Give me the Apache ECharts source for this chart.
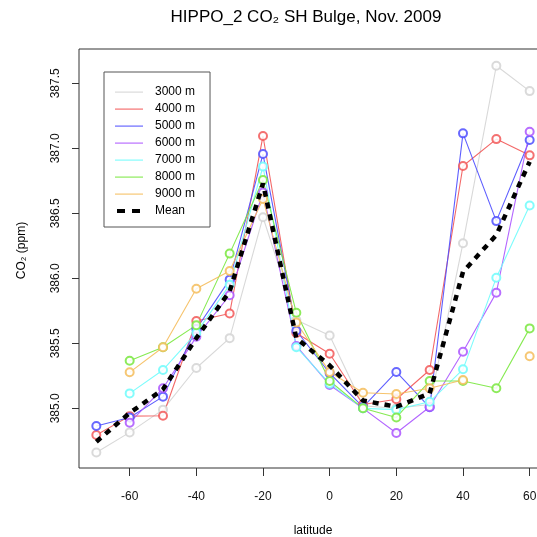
<!DOCTYPE html>
<html>
<head>
<meta charset="utf-8">
<script src="https://cdn.jsdelivr.net/npm/echarts@6/dist/echarts.min.js"></script>
<style>
  html, body { margin: 0; padding: 0; background: #fff; }
  #chart { width: 537px; height: 537px; }
</style>
</head>
<body>
<div id="chart"></div>
<script>
// Latitude bins (degrees) shared by every altitude profile
const latitudes = [-70, -60, -50, -40, -30, -20, -10, 0, 10, 20, 30, 40, 50, 60];

// CO2 mixing ratio (ppm) by altitude band; null = no samples in that bin
const co2_3000m = [384.66, 384.815, 384.99, 385.31, 385.54, 386.47, 385.68, 385.56, 385.02, 385.0, 385.03, 386.27, 387.635, 387.44];
const co2_4000m = [384.795, 384.94, 384.943, 385.672, 385.73, 387.095, 385.58, 385.42, 385.03, 385.07, 385.295, 386.864, 387.071, 386.946];
const co2_5000m = [384.864, 384.93, 385.09, 385.61, 385.99, 386.956, 385.597, 385.27, 385.01, 385.28, 385.008, 387.115, 386.44, 387.064];
const co2_6000m = [null, 384.89, 385.154, 385.55, 385.87, 386.66, 385.48, 385.18, 385.0, 384.81, 385.01, 385.435, 385.89, 387.128];
const co2_7000m = [null, 385.115, 385.295, 385.58, 385.95, 386.86, 385.47, 385.19, 385.0, 384.99, 385.05, 385.30, 386.005, 386.56];
const co2_8000m = [null, 385.366, 385.47, 385.64, 386.19, 386.756, 385.735, 385.21, 385.0, 384.93, 385.21, 385.21, 385.154, 385.615];
const co2_9000m = [null, 385.277, 385.47, 385.92, 386.056, 386.61, 385.66, 385.28, 385.12, 385.11, 385.154, 385.218, null, 385.40];
const co2_mean  = [384.743, 384.964, 385.146, 385.54, 385.9, 386.73, 385.54, 385.33, 385.06, 385.012, 385.115, 386.05, 386.333, 386.897];

// Axis tick positions
const latTicks = [-60, -40, -20, 0, 20, 40, 60];
const co2Ticks = [385.0, 385.5, 386.0, 386.5, 387.0, 387.5];

const profiles = [
  { name: '3000 m', values: co2_3000m, color: '#d4d4d4' },
  { name: '4000 m', values: co2_4000m, color: '#f25858' },
  { name: '5000 m', values: co2_5000m, color: '#4d4dff' },
  { name: '6000 m', values: co2_6000m, color: '#ab55ff' },
  { name: '7000 m', values: co2_7000m, color: '#6ffcfc' },
  { name: '8000 m', values: co2_8000m, color: '#79e83e' },
  { name: '9000 m', values: co2_9000m, color: '#f5bd5c' }
];

const FONT = '"Liberation Sans", Arial, Helvetica, sans-serif';
const toPairs = vals => latitudes.map((lat, i) => [lat, vals[i]]);

const thinIcon = 'path://M0,0M28,8M0,3.5h28v1.2h-28z';
const dashIcon = 'path://M0,0M28,8M2,2h8v4h-8zM17,2h8v4h-8z';

const series = profiles.map(p => ({
  name: p.name,
  type: 'line',
  data: toPairs(p.values),
  symbol: 'emptyCircle',
  symbolSize: 8,
  connectNulls: false,
  lineStyle: { color: p.color, width: 1.1, opacity: 0.9 },
  itemStyle: { color: p.color, borderColor: p.color, borderWidth: 0.9, opacity: 0.85 },
  emphasis: { disabled: true },
  animation: false
}));

series.push({
  name: 'Mean',
  type: 'line',
  data: toPairs(co2_mean),
  symbol: 'none',
  lineStyle: { color: '#000', width: 4.5, type: [6, 6] },
  itemStyle: { color: '#000' },
  emphasis: { disabled: true },
  animation: false,
  z: 5
});

const legendData = profiles.map(p => ({ name: p.name, icon: thinIcon, itemStyle: { color: p.color, borderWidth: 0 } }))
  .concat([{ name: 'Mean', icon: dashIcon, itemStyle: { color: '#000', borderWidth: 0 } }]);

const chart = echarts.init(document.getElementById('chart'), null, { renderer: 'canvas' });
chart.setOption({
  backgroundColor: '#fff',
  animation: false,
  title: {
    text: 'HIPPO_2 CO\u2082 SH Bulge, Nov. 2009',
    left: 301,
    textAlign: 'center',
    top: 4,
    textStyle: { fontFamily: FONT, fontSize: 17, fontWeight: 'normal', color: '#000' }
  },
  legend: {
    orient: 'vertical',
    left: 104,
    top: 72,
    data: legendData,
    itemWidth: 28,
    itemHeight: 8,
    itemGap: 5,
    padding: [14, 15, 10, 11],
    borderColor: '#555',
    borderWidth: 1,
    selectedMode: false,
    textStyle: { fontFamily: FONT, fontSize: 12, color: '#000', padding: [0, 0, 0, 7] }
  },
  grid: {
    left: 79, top: 49, width: 468, height: 419,
    outerBoundsMode: 'none',
    containLabel: false,
    show: true, borderColor: '#333', borderWidth: 1, backgroundColor: 'transparent'
  },
  xAxis: {
    type: 'value',
    min: -75.2,
    max: 65.2,
    name: 'latitude',
    nameLocation: 'middle',
    nameGap: 57,
    nameTextStyle: { fontFamily: FONT, fontSize: 12, color: '#000' },
    axisLine: { show: false, onZero: false },
    splitLine: { show: false },
    axisTick: { show: true, customValues: latTicks, length: 8, lineStyle: { color: '#333' } },
    axisLabel: { customValues: latTicks, margin: 23, fontFamily: FONT, fontSize: 12, color: '#111' }
  },
  yAxis: {
    type: 'value',
    min: 384.541,
    max: 387.764,
    name: 'CO\u2082 (ppm)',
    nameLocation: 'middle',
    nameRotate: 90,
    nameGap: 51,
    nameTextStyle: { fontFamily: FONT, fontSize: 12, color: '#000', padding: [0, 0, 0, 16] },
    axisLine: { show: false, onZero: false },
    splitLine: { show: false },
    axisTick: { show: true, customValues: co2Ticks, length: 7, lineStyle: { color: '#333' } },
    axisLabel: {
      customValues: co2Ticks,
      rotate: 90,
      margin: 17,
      fontFamily: FONT,
      fontSize: 12,
      color: '#111',
      formatter: v => v.toFixed(1)
    }
  },
  series: series
});
</script>
</body>
</html>
